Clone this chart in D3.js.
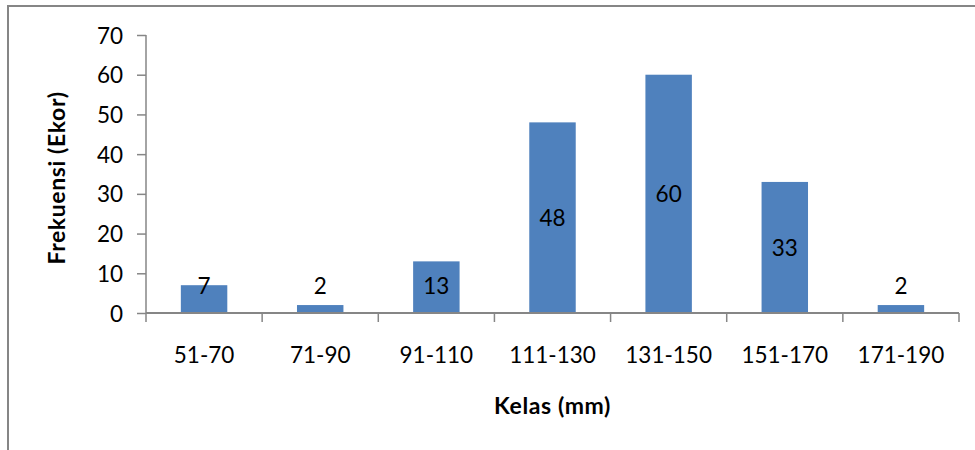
<!DOCTYPE html>
<html>
<head>
<meta charset="utf-8">
<script src="https://cdn.jsdelivr.net/npm/d3@7"></script>
<style>
  body { margin: 0; background: #fff; }
  text { font-family: Lato, "Open Sans", sans-serif; fill: #000; }
</style>
</head>
<body>
<div id="chart"></div>
<script>
var categories = ["51-70", "71-90", "91-110", "111-130", "131-150", "151-170", "171-190"];
var frequencies = [7, 2, 13, 48, 60, 33, 2];
var yTicks = [0, 10, 20, 30, 40, 50, 60, 70];

var _width = 975, _height = 450;
var plotLeft = 146, plotRight = 959, plotTop = 35, plotBottom = 313;
var axisColor = "#868686", barColor = "#4F81BD";
var _fontSize = 22.5;

var svg = d3.select("#chart").append("svg")
    .attr("width", _width)
    .attr("height", _height);

// chart frame (only left and top edges fall inside the picture)
svg.append("path")
    .attr("d", "M8,450 V6 H975")
    .attr("fill", "none")
    .attr("stroke", axisColor)
    .attr("stroke-width", 2);

var x = d3.scaleBand()
    .domain(categories)
    .range([plotLeft, plotRight])
    .paddingInner(0.6)
    .paddingOuter(0.3);

var y = d3.scaleLinear()
    .domain([0, 70])
    .range([plotBottom, plotTop]);

// y axis
var yAxis = svg.append("g")
    .attr("transform", "translate(" + plotLeft + ",0)")
    .call(d3.axisLeft(y).tickValues(yTicks).tickSize(9).tickPadding(14));
yAxis.select(".domain").attr("stroke", axisColor).attr("stroke-width", 1.5)
    .attr("d", "M0," + plotTop + "V" + plotBottom);
yAxis.selectAll(".tick line").attr("stroke", axisColor).attr("stroke-width", 1.5);
yAxis.selectAll(".tick text")
    .style("font-size", _fontSize + "px")
    .attr("font-family", null)
    .attr("dy", "0.36em");

// bars
svg.selectAll("rect.bar")
    .data(frequencies)
    .enter().append("rect")
    .attr("class", "bar")
    .attr("x", function(d, i) { return x(categories[i]); })
    .attr("y", function(d) { return y(d); })
    .attr("width", x.bandwidth())
    .attr("height", function(d) { return y(0) - y(d); })
    .attr("fill", barColor);

// x axis: ticks sit between categories
var step = x.step();
var boundaries = d3.range(categories.length + 1).map(function(i) { return plotLeft + i * step; });
var xAxis = svg.append("g");
xAxis.append("line")
    .attr("x1", plotLeft).attr("x2", plotRight)
    .attr("y1", plotBottom).attr("y2", plotBottom)
    .attr("stroke", axisColor).attr("stroke-width", 2);
xAxis.selectAll("line.tick")
    .data(boundaries)
    .enter().append("line")
    .attr("class", "tick")
    .attr("x1", function(d) { return d; }).attr("x2", function(d) { return d; })
    .attr("y1", plotBottom).attr("y2", plotBottom + 9)
    .attr("stroke", axisColor).attr("stroke-width", 1.5);
xAxis.selectAll("text")
    .data(categories)
    .enter().append("text")
    .attr("x", function(d) { return x(d) + x.bandwidth() / 2; })
    .attr("y", 363)
    .attr("text-anchor", "middle")
    .style("font-size", _fontSize + "px")
    .text(function(d) { return d; });

// data labels, centred in the bar but kept above a minimum height
svg.selectAll("text.value")
    .data(frequencies)
    .enter().append("text")
    .attr("class", "value")
    .attr("x", function(d, i) { return x(categories[i]) + x.bandwidth() / 2; })
    .attr("y", function(d) { return Math.min((y(d) + y(0)) / 2, y(0) - 27); })
    .attr("dy", "0.36em")
    .attr("text-anchor", "middle")
    .style("font-size", _fontSize + "px")
    .text(function(d) { return d; });

// axis titles
svg.append("text")
    .attr("x", (plotLeft + plotRight) / 2)
    .attr("y", 414)
    .attr("text-anchor", "middle")
    .style("font-size", "23px")
    .style("letter-spacing", "0.6px")
    .style("font-weight", "bold")
    .text("Kelas (mm)");

svg.append("text")
    .attr("transform", "translate(65," + ((plotTop + plotBottom) / 2 + 4) + ") rotate(-90)")
    .attr("text-anchor", "middle")
    .style("font-size", "23px")
    .style("letter-spacing", "0.6px")
    .style("font-weight", "bold")
    .text("Frekuensi (Ekor)");
</script>
</body>
</html>
